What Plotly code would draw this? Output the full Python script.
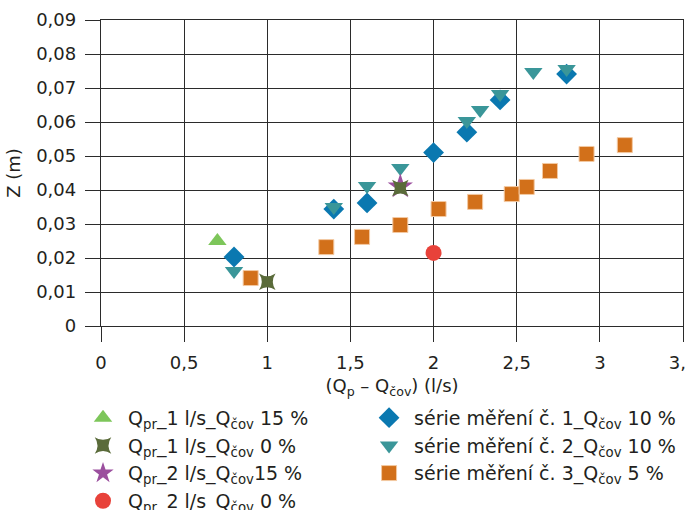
import plotly.graph_objects as go

# ---- data ----
x_tickvals = [0, 0.5, 1, 1.5, 2, 2.5, 3, 3.5]
x_ticktext = ["0", "0,5", "1", "1,5", "2", "2,5", "3", "3,5"]
y_tickvals = [0, 0.01, 0.02, 0.03, 0.04, 0.05, 0.06, 0.07, 0.08, 0.09]
y_ticktext = ["0", "0,01", "0,02", "0,03", "0,04", "0,05", "0,06", "0,07", "0,08", "0,09"]

q1_15_x = [0.7]
q1_15_y = [0.025]
q1_0_x = [1.0, 1.8]
q1_0_y = [0.013, 0.0406]
q2_15_x = [1.8]
q2_15_y = [0.041]
q2_0_x = [2.0]
q2_0_y = [0.0215]

s1_x = [0.8, 1.4, 1.6, 2.0, 2.2, 2.4, 2.8]
s1_y = [0.0203, 0.0344, 0.0362, 0.051, 0.057, 0.0665, 0.0741]
s2_x = [0.8, 1.4, 1.6, 1.8, 2.2, 2.28, 2.4, 2.6, 2.8]
s2_y = [0.0162, 0.035, 0.0412, 0.0465, 0.0603, 0.0635, 0.0682, 0.0747, 0.0756]
s3_x = [0.9, 1.355, 1.57, 1.8, 2.03, 2.25, 2.47, 2.56, 2.7, 2.92, 3.15]
s3_y = [0.0141, 0.0232, 0.0262, 0.0297, 0.0344, 0.0365, 0.0388, 0.0409, 0.0456, 0.0506, 0.0532]

names = [
    "Q<sub>pr</sub>_1 l/s_Q<sub>čov</sub> 15 %",
    "Q<sub>pr</sub>_1 l/s_Q<sub>čov</sub> 0 %",
    "Q<sub>pr</sub>_2 l/s_Q<sub>čov</sub>15 %",
    "Q<sub>pr</sub>_2 l/s_Q<sub>čov</sub> 0 %",
    "série měření č. 1_Q<sub>čov</sub> 10 %",
    "série měření č. 2_Q<sub>čov</sub> 10 %",
    "série měření č. 3_Q<sub>čov</sub> 5 %",
]

FONT = "DejaVu Sans, Liberation Sans, sans-serif"
FS = 18
LFS = 19
TXT = "#231f20"
GRID = "#2b2b2b"

fig = go.Figure()

def add(x, y, name, symbol, color, size, legend, rank, line=None):
    fig.add_trace(go.Scatter(
        x=x, y=y, mode="markers", name=name, legend=legend, legendrank=rank,
        marker=dict(symbol=symbol, color=color, size=size,
                    line=line or dict(width=0)),
    ))

# series drawn first (behind), then single points
add(s3_x, s3_y, names[6], "square", "#D2701A", 15, "legend2", 7, dict(color="#F3C9A2", width=1))
add(s1_x, s1_y, names[4], "diamond", "#0A78B0", 16, "legend2", 5)
add(s2_x, s2_y, names[5], "triangle-down", "#3A9699", 16, "legend2", 6)
add(q1_15_x, q1_15_y, names[0], "triangle-up", "#7DC65A", 16, "legend", 1)
add(q2_15_x, q2_15_y, names[2], "star", "#9B4F9E", 19, "legend", 3)
add(q1_0_x, q1_0_y, names[1], "star-square", "#5A6B3A", 15, "legend", 2)
add(q2_0_x, q2_0_y, names[3], "circle", "#E8423A", 16, "legend", 4)

axis_common = dict(
    showgrid=True, gridcolor=GRID, gridwidth=1.3,
    showline=True, linecolor=GRID, linewidth=1.3, mirror=True,
    ticks="outside", ticklen=15, tickcolor=GRID, tickwidth=1.3,
    zeroline=False, ticklabeloverflow="allow",
    tickfont=dict(family=FONT, size=FS, color=TXT),
)

legend_common = dict(
    xanchor="left", yanchor="top", orientation="v", traceorder="normal",
    font=dict(family=FONT, size=LFS, color=TXT), itemwidth=40,
    bgcolor="rgba(0,0,0,0)", tracegroupgap=0, borderwidth=0,
)

fig.update_layout(
    width=685, height=510,
    margin=dict(l=101, r=2, t=20, b=184, autoexpand=False),
    paper_bgcolor="white", plot_bgcolor="white",
    font=dict(family=FONT, size=FS, color=TXT),
    xaxis=dict(range=[0, 3.5], tickvals=x_tickvals, ticktext=x_ticktext,
               ticklabelstandoff=5,
               title=dict(text="(Q<sub>p</sub> – Q<sub>čov</sub>) (l/s)", standoff=7,
                          font=dict(family=FONT, size=FS, color=TXT)),
               **axis_common),
    yaxis=dict(range=[0, 0.09], tickvals=y_tickvals, ticktext=y_ticktext,
               ticklabelstandoff=5,
               title=dict(text="Z (m)", standoff=10,
                          font=dict(family=FONT, size=FS, color=TXT)),
               **axis_common),
    legend=dict(x=-0.0395, y=-0.238, **legend_common),
    legend2=dict(x=0.452, y=-0.238, **legend_common),
)

fig.write_html("out.html")
